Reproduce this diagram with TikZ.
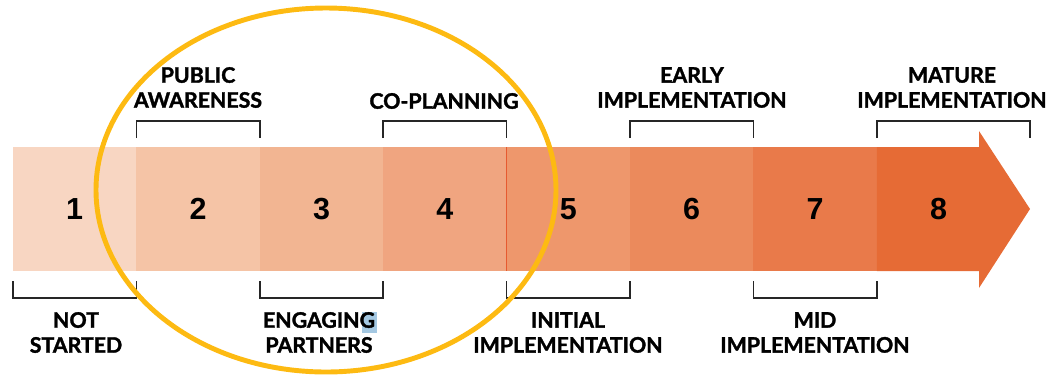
\documentclass[tikz,border=0pt]{standalone}
\usepackage{fontspec}
\setsansfont{Lato}[BoldFeatures={FakeBold=1.6}]
\newfontfamily\numfont{Liberation Sans}
\definecolor{stage1}{HTML}{F8D6C2}
\definecolor{stage2}{HTML}{F5C4A6}
\definecolor{stage3}{HTML}{F2B592}
\definecolor{stage4}{HTML}{F0A580}
\definecolor{stage5}{HTML}{EE976C}
\definecolor{stage6}{HTML}{EB8A5C}
\definecolor{stage7}{HTML}{E97A4A}
\definecolor{stage8}{HTML}{E66B35}
\definecolor{stageline}{HTML}{E65A30}
\definecolor{ringyellow}{HTML}{FDBA12}
\definecolor{selblue}{HTML}{A4C8E2}

\begin{document}
\begin{tikzpicture}[x=0.03cm, y=-0.03cm,
    stagelabel/.style={font=\sffamily\bfseries\fontsize{18.2}{21.3}\selectfont, align=center, inner sep=0pt},
    stagenum/.style={font=\numfont\bfseries\fontsize{26}{26}\selectfont, inner sep=0pt},
    bracket/.style={draw=black!85, line width=1.3pt}]
    \useasboundingbox (0,0) rectangle (1051,378);

    % bar segments
    \foreach \i/\col in {1/stage1, 2/stage2, 3/stage3, 4/stage4, 5/stage5, 6/stage6, 7/stage7} {
        \fill[\col] ({13+123.4*(\i-1)},147) rectangle ({13+123.4*\i},271);
    }
    \fill[stage8] (876.8,147) -- (979,147) -- (979,131) -- (1030,209) -- (979,288) -- (979,271) -- (876.8,271) -- cycle;
    \draw[stageline, line width=0.5pt] (506.6,147) -- (506.6,271);

    % stage numbers
    \foreach \i in {1,...,8} {
        \node[stagenum] (n\i) at ({13+123.4*(\i-0.5)},209) {\i};
    }

    % brackets above
    \foreach \a/\b in {136.4/259.8, 383.2/506.6, 630/753.4, 876.8/1030} {
        \draw[bracket] (\a,138) -- (\a,121) -- (\b,121) -- (\b,138);
    }
    % brackets below
    \foreach \a/\b in {13/136.4, 259.8/383.2, 506.6/630, 753.4/876.8} {
        \draw[bracket] (\a,281) -- (\a,298) -- (\b,298) -- (\b,281);
    }

    % labels
    \fill[selblue] (362,312) rectangle (377,333);
    \node[stagelabel] (public) at (198,87.5) {PUBLIC\\AWARENESS};
    \node[stagelabel] (coplan) at (444,101) {CO-PLANNING};
    \node[stagelabel] (early) at (692,87.5) {EARLY\\IMPLEMENTATION};
    \node[stagelabel] (mature) at (952,87.5) {MATURE\\IMPLEMENTATION};
    \node[stagelabel] (notstarted) at (76,332.5) {NOT\\STARTED};
    \node[stagelabel] (engaging) at (319,332.5) {ENGAGING\\PARTNERS};
    \node[stagelabel] (initial) at (568,332.5) {INITIAL\\IMPLEMENTATION};
    \node[stagelabel] (mid) at (815,332.5) {MID\\IMPLEMENTATION};

    % highlight ring
    \draw[ringyellow, line width=4.2pt] (326,190) ellipse [x radius=230, y radius=182];
\end{tikzpicture}
\end{document}
